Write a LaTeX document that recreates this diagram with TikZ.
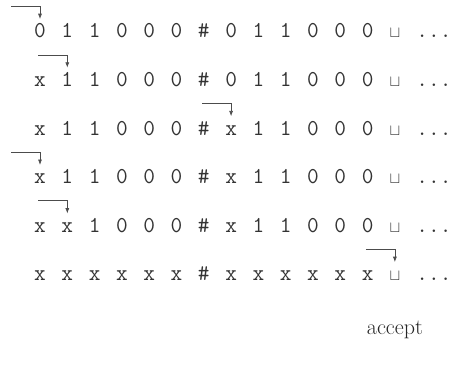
\documentclass[tikz,border=0pt]{standalone}
\usepackage{tikz}
\usetikzlibrary{arrows.meta,positioning,calc}
\newcommand{\blank}{$\scriptstyle\sqcup$}
\begin{document}
\begin{tikzpicture}[x=0.75pt,y=0.75pt,>={Latex[length=4pt,width=3pt]},
  sym/.style={font=\fontsize{17}{19}\selectfont\ttfamily,text=black!80,inner sep=0pt,anchor=base,text height=10pt,text depth=0pt},
  head/.style={->,line width=.5pt,draw=black!70,shorten >=4pt},
  lbl/.style={font=\fontsize{16.5}{18}\selectfont,text=black!85,inner sep=0pt}]
\useasboundingbox (0,0) rectangle (451,-373);
% tape contents, one row per step
\foreach \tape [count=\r] in {
  {0,1,1,0,0,0,\#,0,1,1,0,0,0,\blank},
  {x,1,1,0,0,0,\#,0,1,1,0,0,0,\blank},
  {x,1,1,0,0,0,\#,x,1,1,0,0,0,\blank},
  {x,1,1,0,0,0,\#,x,1,1,0,0,0,\blank},
  {x,x,1,0,0,0,\#,x,1,1,0,0,0,\blank},
  {x,x,x,x,x,x,\#,x,x,x,x,x,x,\blank}}{
  \foreach \s [count=\c from 0] in \tape
    \node[sym] (r\r c\c) at (40+27.3*\c,-38-48.6*\r+48.6) {\s};
  \node[sym] (r\r d) at (434,-38-48.6*\r+48.6) {...};
}
% head positions
\foreach \r/\h in {1/0,2/1,3/7,4/0,5/1,6/13}{
  \coordinate (hs\r) at ($(r\r c\h.north)+(-29,18)$);
  \draw[head] (hs\r) -| (r\r c\h.north);
}
\node[lbl,below=10.5mm of r6c13] (acc) {accept};
\end{tikzpicture}
\end{document}
